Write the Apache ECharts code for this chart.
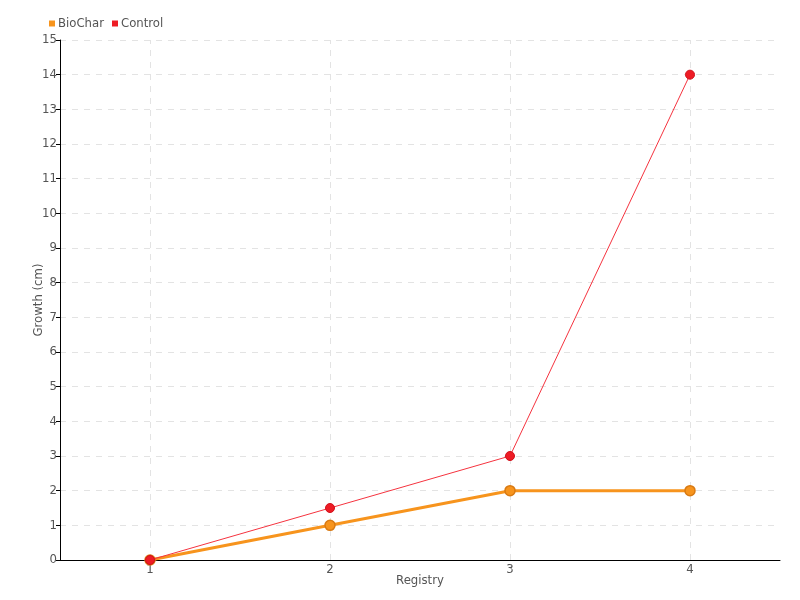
<!DOCTYPE html>
<html><head><meta charset="utf-8">
<script src="https://cdn.jsdelivr.net/npm/echarts@6/dist/echarts.min.js"></script>
<style>html,body{margin:0;padding:0;background:#fff}#c{width:800px;height:600px}</style>
</head><body><div id="c"></div>
<script>
const categories = ['1', '2', '3', '4'];
const bioChar = [0, 1, 2, 2];
const control = [0, 1.5, 3, 14];
const yTicks = [0, 15, 1];

const font = '"Liberation Sans Narrow", "DejaVu Sans Condensed", "DejaVu Sans", sans-serif';
const txt = '#555';
const chart = echarts.init(document.getElementById('c'), null, {renderer: 'canvas'});
chart.setOption({
  animation: false,
  textStyle: {fontFamily: font, color: txt},
  legend: {
    left: 44, top: 12, itemWidth: 6, itemHeight: 6, itemGap: 8,
    icon: 'rect',
    itemStyle: {borderWidth: 0},
    textStyle: {fontFamily: font, color: txt, fontSize: 13, padding: [0, 0, 0, -2]},
    data: ['BioChar', 'Control']
  },
  grid: {left: 60, right: 20, top: 40, bottom: 40},
  xAxis: {
    type: 'category', data: categories, boundaryGap: true,
    name: 'Registry', nameLocation: 'middle', nameGap: 14, nameMoveOverlap: false,
    nameTextStyle: {fontFamily: font, color: txt, fontSize: 13},
    axisLine: {lineStyle: {color: '#000', width: 1}},
    axisTick: {alignWithLabel: true, length: 4, lineStyle: {color: '#000'}},
    axisLabel: {fontFamily: font, color: txt, fontSize: 13, margin: 3},
    splitLine: {show: false}
  },
  yAxis: {
    type: 'value', min: yTicks[0], max: yTicks[1], interval: yTicks[2],
    name: 'Growth (cm)', nameLocation: 'middle', nameGap: 15, nameMoveOverlap: false,
    nameTextStyle: {fontFamily: font, color: txt, fontSize: 13},
    axisLine: {show: true, lineStyle: {color: '#000', width: 1}},
    axisTick: {show: true, length: 4, lineStyle: {color: '#000'}},
    axisLabel: {fontFamily: font, color: txt, fontSize: 13, margin: 3},
    splitLine: {show: true, lineStyle: {color: '#e3e3e3', type: [6, 6]}}
  },
  series: [
    {
      name: 'grid', type: 'line', data: [], z: 0, silent: true,
      markLine: {
        silent: true, symbol: 'none', label: {show: false}, z: 0,
        lineStyle: {color: '#e3e3e3', type: [6, 6], width: 1},
        data: categories.map(c => ({xAxis: c}))
      }
    },
    {
      name: 'BioChar', type: 'line', data: bioChar,
      symbol: 'circle', symbolSize: 10,
      lineStyle: {color: '#f7941d', width: 3},
      itemStyle: {color: '#f7941d', borderColor: '#d97a12', borderWidth: 1.5},
      z: 2
    },
    {
      name: 'Control', type: 'line', data: control,
      symbol: 'circle', symbolSize: 9,
      lineStyle: {color: '#f5333f', width: 1},
      itemStyle: {color: '#ee1c25', borderColor: '#d0101a', borderWidth: 1},
      z: 3
    }
  ]
});
</script></body></html>
